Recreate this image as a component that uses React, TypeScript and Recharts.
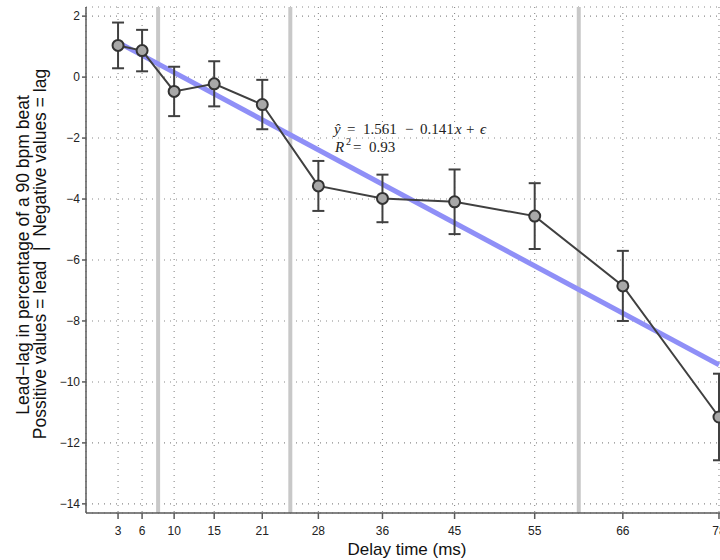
import React from 'react'
import {
  ComposedChart, Line, XAxis, YAxis, CartesianGrid, ErrorBar, ReferenceLine
} from 'recharts'

// delay conditions (ms) and mean lead-lag with error
const delays = [3, 6, 10, 15, 21, 28, 36, 45, 55, 66, 78]
const leadLag = [1.04, 0.87, -0.47, -0.22, -0.9, -3.57, -3.98, -4.09, -4.56, -6.85, -11.15]
const errors = [0.75, 0.68, 0.81, 0.74, 0.81, 0.82, 0.78, 1.06, 1.08, 1.15, 1.42]

const yTicks = [-14, -12, -10, -8, -6, -4, -2, 0, 2]

// fitted line end points
const fitX = [3, 78]
const fitY = [1.138, -9.437]

// grey separators between groups
const groupBounds = [8, 24.5, 60.5]

const points = delays.map((d, i) => ({ x: d, y: leadLag[i], err: errors[i] }))
const fit = fitX.map((d, i) => ({ x: d, fit: fitY[i] }))

const axisColor = '#5a5a5a'
const tickStyle = { fontSize: 12, fill: '#222', fontFamily: 'Liberation Sans, Arial, sans-serif' }
const minus = (v: number) => (v < 0 ? `\u2212${Math.abs(v)}` : `${v}`)

const App = () => {
  return (
    <div style={{ position: 'absolute', left: 0, top: 0, width: 720, height: 560, overflow: 'hidden', background: '#fff' }}>
      <ComposedChart width={760} height={560} data={points}
        margin={{ top: 7, right: 33, bottom: 0, left: 0 }}>
        <CartesianGrid stroke="#8a8a8a" strokeDasharray="1 5" strokeWidth={1.1} />
        <XAxis type="number" dataKey="x" domain={[-1, 79]} ticks={delays} allowDataOverflow
          height={47} tickSize={6} tickMargin={7} tick={tickStyle}
          stroke={axisColor} strokeWidth={1.5} interval={0} />
        <YAxis type="number" domain={[-14.3, 2.3]} ticks={yTicks} allowDataOverflow
          width={86} tickSize={4} tickMargin={2} tick={tickStyle} tickFormatter={minus}
          stroke={axisColor} strokeWidth={1.5} interval={0} />
        {groupBounds.map(b => (
          <ReferenceLine key={b} x={b} stroke="#c8c8c8" strokeWidth={4} />
        ))}
        <Line data={fit} dataKey="fit" stroke="#8f8ff7" strokeWidth={5} dot={false}
          isAnimationActive={false} />
        <Line dataKey="y" stroke="#404040" strokeWidth={2} isAnimationActive={false}
          dot={{ r: 5.5, fill: '#a8a8a8', stroke: '#333', strokeWidth: 2 }} activeDot={false}>
          <ErrorBar dataKey="err" direction="y" width={6} stroke="#404040" strokeWidth={2} />
        </Line>
      </ComposedChart>
      <svg width={720} height={560} style={{ position: 'absolute', left: 0, top: 0, pointerEvents: 'none' }}>
        <g fontFamily="Liberation Sans, Arial, sans-serif" fill="#111" textAnchor="middle">
          <text fontSize={17.5} transform="translate(29,255) rotate(-90)">Lead−lag in percentage of a 90 bpm beat</text>
          <text fontSize={17.5} transform="translate(46,254) rotate(-90)">{'Possitive values = lead \u00a0|\u00a0 Negative values = lag'}</text>
          <text fontSize={17} x={407} y={555}>Delay time (ms)</text>
        </g>
        <g fontFamily="Liberation Serif, Times New Roman, serif" fontSize={15} fill="#222">
          <text y={134}>
            <tspan x={334} fontStyle="italic">ŷ</tspan>
            <tspan x={347}>=</tspan>
            <tspan x={363}>1.561</tspan>
            <tspan x={405}>−</tspan>
            <tspan x={420}>0.141</tspan>
            <tspan x={455} fontStyle="italic">x</tspan>
            <tspan x={466}>+</tspan>
            <tspan x={480} fontStyle="italic">ϵ</tspan>
          </text>
          <text y={152}>
            <tspan x={335} fontStyle="italic">R</tspan>
            <tspan x={346} y={145} fontSize={10}>2</tspan>
            <tspan x={353} y={152}>=</tspan>
            <tspan x={369}>0.93</tspan>
          </text>
        </g>
      </svg>
    </div>
  )
}

export default App
